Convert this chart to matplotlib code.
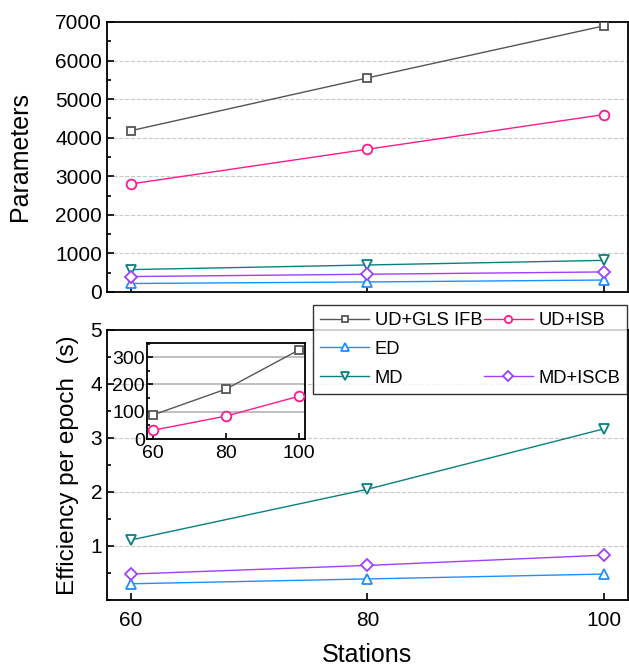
import matplotlib
matplotlib.use('Agg')
import matplotlib.pyplot as plt
from matplotlib.lines import Line2D
from matplotlib.ticker import MultipleLocator

plt.rcParams['font.family'] = ['Liberation Sans', 'DejaVu Sans']

# data
stations = [60, 80, 100]
params_udgls = [4180, 5550, 6900]
params_udisb = [2800, 3700, 4600]
params_ed = [220, 260, 310]
params_md = [580, 700, 820]
params_mdiscb = [400, 460, 520]

eff_ed = [0.30, 0.39, 0.48]
eff_md = [1.11, 2.05, 3.17]
eff_mdiscb = [0.48, 0.64, 0.83]
inset_udgls = [88, 183, 327]
inset_udisb = [32, 84, 157]

cols = {'UD+GLS IFB': '#555555', 'UD+ISB': '#ff1a8c', 'ED': '#1e8fff',
        'MD': '#0a8080', 'MD+ISCB': '#a040ff'}
marks = {'UD+GLS IFB': 's', 'UD+ISB': 'o', 'ED': '^', 'MD': 'v', 'MD+ISCB': 'D'}
msize = {'UD+GLS IFB': 6, 'UD+ISB': 7, 'ED': 7.5, 'MD': 7.5, 'MD+ISCB': 6.5}


def style_axes(ax, fs=15, major=None, minor=None):
    for s in ax.spines.values():
        s.set_linewidth(1.3)
    ax.tick_params(which='both', direction='in', labelsize=fs, width=1.2)
    ax.tick_params(which='major', length=5)
    ax.tick_params(which='minor', length=3)
    if major is not None:
        ax.yaxis.set_major_locator(MultipleLocator(major))
        ax.yaxis.set_minor_locator(MultipleLocator(minor))
    ax.set_xticks(stations)


def draw(ax, name, y):
    return ax.plot(stations, y, color=cols[name], lw=1, marker=marks[name],
                   ms=msize[name], mfc='white', mec=cols[name], mew=1.3,
                   label=name, zorder=3)[0]


fig = plt.figure(figsize=(6.29, 6.70), dpi=100)

# top panel
ax1 = fig.add_axes([0.170, 0.5642, 0.828, 0.403])
draw(ax1, 'UD+GLS IFB', params_udgls)
draw(ax1, 'UD+ISB', params_udisb)
draw(ax1, 'ED', params_ed)
draw(ax1, 'MD', params_md)
draw(ax1, 'MD+ISCB', params_mdiscb)
ax1.set_xlim(58, 102)
ax1.set_ylim(0, 7000)
style_axes(ax1, major=1000, minor=500)
ax1.set_xticklabels([])
ax1.grid(axis='y', which='major', ls='--', color='#c8c8c8', lw=0.8)
ax1.set_ylabel('Parameters', fontsize=18, labelpad=17)

# bottom panel
ax2 = fig.add_axes([0.170, 0.1045, 0.828, 0.403])
h_ed = draw(ax2, 'ED', eff_ed)
h_md = draw(ax2, 'MD', eff_md)
h_mdiscb = draw(ax2, 'MD+ISCB', eff_mdiscb)
ax2.set_xlim(58, 102)
ax2.set_ylim(0, 5)
style_axes(ax2, major=1, minor=0.5)
ax2.set_yticks([1, 2, 3, 4, 5])
ax2.yaxis.set_minor_locator(MultipleLocator(0.5))
ax2.grid(axis='y', which='major', ls='--', color='#c8c8c8', lw=0.8)
ax2.set_ylabel('Efficiency per epoch  (s)', fontsize=17.5, labelpad=8)
ax2.set_xlabel('Stations', fontsize=18, labelpad=9)
ax2.tick_params(axis='x', pad=8)

# inset
ax3 = fig.add_axes([147 / 629, 1 - 439 / 670, 158 / 629, 96 / 670])
h_udgls = draw(ax3, 'UD+GLS IFB', inset_udgls)
h_udisb = draw(ax3, 'UD+ISB', inset_udisb)
ax3.set_xlim(58.4, 101.6)
ax3.set_ylim(0, 352)
style_axes(ax3, fs=14, major=100, minor=50)
ax3.tick_params(which='major', length=4)
ax3.tick_params(which='minor', length=2.5)
ax3.tick_params(axis='y', pad=1.5)
ax3.tick_params(axis='x', pad=4)
ax3.grid(axis='y', which='major', ls='-', color='#b4b4b4', lw=1.2)
ax3.set_axisbelow(True)

blank = Line2D([], [], color='none', label=' ')
handles = [h_udgls, h_ed, h_md, h_udisb, blank, h_mdiscb]
labels = ['UD+GLS IFB', 'ED', 'MD', 'UD+ISB', ' ', 'MD+ISCB']
leg = fig.legend(handles, labels, ncol=2, loc='upper left',
                 bbox_to_anchor=(313 / 629, 1 - 305 / 670), fontsize=13.2,
                 frameon=True, fancybox=False, edgecolor='black',
                 handlelength=2.7, handletextpad=0.3, columnspacing=0.05,
                 labelspacing=0.65, borderpad=0.38, borderaxespad=0,
                 markerscale=0.75)
leg.get_frame().set_linewidth(1.0)
leg.set_zorder(10)

fig.savefig('out.png', dpi=100)
